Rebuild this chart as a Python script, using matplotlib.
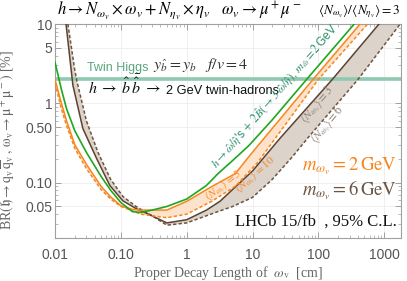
import numpy as np
import matplotlib
matplotlib.use('Agg')
import matplotlib.pyplot as plt
from matplotlib.ticker import FixedLocator, FixedFormatter, LogLocator, NullFormatter

plt.rcParams['mathtext.fontset'] = 'stix'
plt.rcParams['font.family'] = ['Liberation Sans', 'DejaVu Sans']

# proper decay length [cm] vs BR limit [%]
# twin higgs curve, m = 2 GeV (green)
ct_green = [0.01, 0.0125, 0.015, 0.02, 0.03, 0.05, 0.07, 0.1, 0.15, 0.2, 0.3, 0.5, 1, 2, 3, 5, 8.7, 20, 68, 351, 2000]
br_green = [3.3, 1.5, 0.85, 0.45, 0.24, 0.12, 0.08, 0.056, 0.043, 0.042, 0.045, 0.05, 0.062, 0.092, 0.13, 0.19, 0.29, 0.62, 2.05, 10, 55]

# m = 2 GeV, <N> = 5 (solid) and <N> = 10 (dashed)
ct_or5 = [0.01, 0.0125, 0.015, 0.02, 0.03, 0.05, 0.07, 0.1, 0.15, 0.2, 0.5, 1, 2.4, 5.5, 9.1, 83, 431, 2000]
br_or5 = [2.0, 1.0, 0.6, 0.3, 0.17, 0.09, 0.066, 0.051, 0.046, 0.045, 0.045, 0.058, 0.089, 0.13, 0.22, 2.0, 10, 45]
ct_or10 = [0.01, 0.0125, 0.015, 0.02, 0.03, 0.05, 0.07, 0.1, 0.15, 0.2, 0.5, 1, 2.4, 5.5, 12, 100, 560, 2000]
br_or10 = [1.8, 0.85, 0.52, 0.27, 0.15, 0.082, 0.062, 0.05, 0.044, 0.04, 0.036, 0.04, 0.058, 0.09, 0.18, 2.0, 10, 32]

# m = 6 GeV, <N> = 3 (solid) and <N> = 6 (dashed)
ct_br3 = [0.0147, 0.0187, 0.0265, 0.043, 0.068, 0.107, 0.17, 0.3, 0.5, 1, 2, 3.2, 5, 10, 26, 163, 835, 2000]
br_br3 = [10, 1.69, 0.48, 0.2, 0.092, 0.059, 0.047, 0.038, 0.031, 0.034, 0.045, 0.058, 0.082, 0.14, 0.36, 2.0, 10, 23]
ct_br6 = [0.0157, 0.02, 0.0215, 0.03, 0.045, 0.07, 0.107, 0.17, 0.3, 0.5, 1, 3.2, 5, 10, 20, 40, 70, 400, 1750, 2000]
br_br6 = [10, 2.6, 1.9, 0.6, 0.24, 0.11, 0.067, 0.05, 0.038, 0.029, 0.031, 0.044, 0.05, 0.065, 0.11, 0.21, 0.37, 2.0, 10, 11.5]

twin_br = 2.0

x_ticks = [0.01, 0.1, 1, 10, 100, 1000]
x_labels = ['0.01', '0.10', '1', '10', '100', '1000']
y_ticks = [0.05, 0.1, 0.5, 1, 5, 10]
y_labels = ['0.05', '0.10', '0.50', '1', '5', '10']

green = '#1ea81e'
orange = '#f7861f'
brown = '#5c4331'
brown_d = '#6e5440'

fig = plt.figure(figsize=(4.07, 2.81), dpi=100)
ax = fig.add_axes([55/407, 1-238/281, 346/407, 214/281])
ax.set_xscale('log')
ax.set_yscale('log')
ax.set_xlim(0.01, 1800)
ax.set_ylim(0.02, 10)

# bands
ax.fill(np.concatenate([ct_or5, ct_or10[::-1]]), np.concatenate([br_or5, br_or10[::-1]]),
        color='#fde3cb', lw=0, zorder=1)
ax.fill(np.concatenate([ct_br3, ct_br6[::-1]]), np.concatenate([br_br3, br_br6[::-1]]),
        color='#dcd3cb', lw=0, zorder=1)

ax.axhline(twin_br, color='#8fcab0', lw=2.6, zorder=2)

ax.plot(ct_br6, br_br6, color=brown_d, lw=1.1, ls=(0, (2.2, 1.4)), zorder=3)
ax.plot(ct_br3, br_br3, color=brown, lw=1.1, zorder=3)
ax.plot(ct_or10, br_or10, color=orange, lw=1.1, ls=(0, (2.2, 1.4)), zorder=4)
ax.plot(ct_or5, br_or5, color=orange, lw=1.1, zorder=4)
ax.plot(ct_green, br_green, color=green, lw=1.2, zorder=5)

# axes style
for s in ax.spines.values():
    s.set_color('#a0a0a0')
    s.set_linewidth(0.8)
ax.xaxis.set_major_locator(FixedLocator(x_ticks))
ax.xaxis.set_major_formatter(FixedFormatter(x_labels))
ax.xaxis.set_minor_locator(LogLocator(base=10, subs=np.arange(2, 10)))
ax.xaxis.set_minor_formatter(NullFormatter())
ax.yaxis.set_major_locator(FixedLocator(y_ticks))
ax.yaxis.set_major_formatter(FixedFormatter(y_labels))
ax.yaxis.set_minor_locator(LogLocator(base=10, subs=np.arange(2, 10)))
ax.yaxis.set_minor_formatter(NullFormatter())
ax.tick_params(which='both', direction='in', top=True, right=True, color='#a0a0a0')
ax.tick_params(which='major', length=4, width=0.7, labelsize=10, labelcolor='#555555')
ax.tick_params(which='minor', length=2, width=0.5)
ax.tick_params(axis='x', pad=7)
ax.tick_params(axis='y', pad=2)
ax.grid(which='major', color='#ececec', lw=0.6, zorder=0)
ax.set_axisbelow(True)

ax.set_xlabel(r'Proper Decay Length of  $\omega_{\rm v}$  [cm]', family='Liberation Serif',
              fontsize=10, color='#666666', labelpad=2)
ax.set_ylabel(r'BR$(\mathfrak{h}\to{\rm q_v}\,\overline{\rm q}_{\rm v}\,,\,\omega_{\rm v}\to\mu^+\mu^-)$ [%]',
              family='Liberation Serif', fontsize=10, color='#666666')
ax.yaxis.set_label_coords(-0.108, 0.46)

# title
fig.text(57/407, 1-11/281, r'$h\to N_{\omega_v}\times\omega_v+N_{\eta_v}\times\eta_v\quad\omega_v\to\mu^+\mu^-$',
         fontsize=12, va='center', ha='left')
fig.text(400/407, 1-11/281, r'$\langle N_{\omega_v}\rangle/\langle N_{\eta_v}\rangle=3$',
         fontsize=9.6, va='center', ha='right')

# twin higgs annotations
ax.text(0.031, 2.35, 'Twin Higgs', color='#5aa67f', fontsize=9, va='bottom', ha='left')
ax.text(0.31, 2.35, r'$y_{\hat b}=y_b\quad f/v=4$', color='#333333', fontsize=11.5, va='bottom', ha='left')
ax.text(0.032, 1.3, r'$h\;\to\;\hat b\,\bar{\hat b}\;\to$', color='#111111',
        fontsize=11.5, va='baseline', ha='left')
ax.text(0.49, 1.3, '2 GeV twin-hadrons', color='#111111', fontsize=9.2, va='baseline', ha='left')

ax.text(27, 1.05, r"$h\to\hat\omega/\hat\eta$'s$\,+\,2\hat B(\to3\,\hat\omega/\hat\eta)$, $m_{\hat\omega}=2\,$GeV",
        color='#2f8f6b', fontsize=8.6, rotation=49, rotation_mode='anchor', ha='center', va='bottom')

ax.text(3.7, 0.09, r'$\langle N_{\omega_v}\rangle=5$', color=orange, fontsize=8.2, rotation=38,
        rotation_mode='anchor', ha='center', va='center')
ax.text(11, 0.125, r'$\langle N_{\omega_v}\rangle=10$', color=orange, fontsize=8.2, rotation=42,
        rotation_mode='anchor', ha='center', va='center')
ax.text(95, 0.95, r'$\langle N_{\omega_v}\rangle=3$', color='#8f7f74', fontsize=8.5, rotation=50,
        rotation_mode='anchor', ha='center', va='center')
ax.text(135, 0.55, r'$\langle N_{\omega_v}\rangle=6$', color='#8f7f74', fontsize=8.5, rotation=50,
        rotation_mode='anchor', ha='center', va='center')

ax.text(1550, 0.16, r'$m_{\omega_v}=2\,\mathrm{GeV}$', color=orange, fontsize=13.5, ha='right', va='center')
ax.text(1550, 0.08, r'$m_{\omega_v}=6\,\mathrm{GeV}$', color='#6b5546', fontsize=13.5, ha='right', va='center')
ax.text(1550, 0.032, r'LHCb 15/fb  , 95% C.L.', color='#111111', family='Liberation Serif',
        fontsize=12, ha='right', va='center')

fig.savefig('out.png', dpi=100)
